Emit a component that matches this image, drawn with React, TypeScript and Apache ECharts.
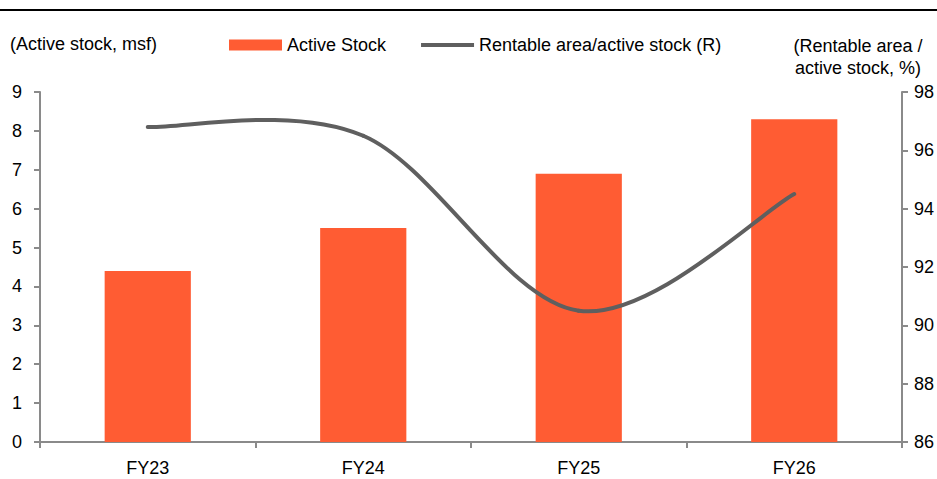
import React, { useEffect, useRef } from "react";
import * as echarts from "echarts";

const categories = ["FY23", "FY24", "FY25", "FY26"];
const activeStock = [4.4, 5.5, 6.9, 8.3];
const rentableShare = [96.8, 96.5, 90.5, 94.5];

const FONT = "'Liberation Sans', Arial, sans-serif";
const AXIS_COLOR = "#8a8a8a";
const BAR_COLOR = "#ff5c33";
const LINE_COLOR = "#5f5f5f";
const LINE_NAME = "Rentable area/active stock (R)";

// Cardinal-spline segment (tension 1/6) between point i and i+1,
// positioned through the chart's own axes via api.coord.
function renderSmoothSegment(params: any, api: any) {
  const i = params.dataIndex;
  const n = rentableShare.length;
  if (i >= n - 1) return null;
  const pt = (j: number) => {
    const k = Math.max(0, Math.min(n - 1, j));
    return api.coord([k, rentableShare[k]]);
  };
  const p0 = pt(i - 1);
  const p1 = pt(i);
  const p2 = pt(i + 1);
  const p3 = pt(i + 2);
  const t = 1 / 6;
  return {
    type: "bezierCurve",
    shape: {
      x1: p1[0],
      y1: p1[1],
      cpx1: p1[0] + (p2[0] - p0[0]) * t,
      cpy1: p1[1] + (p2[1] - p0[1]) * t,
      cpx2: p2[0] - (p3[0] - p1[0]) * t,
      cpy2: p2[1] - (p3[1] - p1[1]) * t,
      x2: p2[0],
      y2: p2[1],
    },
    style: { stroke: LINE_COLOR, lineWidth: 4, fill: "none", lineCap: "round" },
    silent: true,
  };
}

export default function App() {
  const ref = useRef<HTMLDivElement>(null);

  useEffect(() => {
    if (!ref.current) return;
    const chart = echarts.init(ref.current, null, { renderer: "svg" });
    const axisLine = { show: true, lineStyle: { color: AXIS_COLOR, width: 2 } };
    const axisTick = { show: true, inside: false, length: 6, lineStyle: { color: AXIS_COLOR, width: 2 } };
    const labelStyle = { color: "#000", fontFamily: FONT, fontSize: 18 };

    chart.setOption({
      animation: false,
      backgroundColor: "#fff",
      textStyle: { fontFamily: FONT },
      grid: { left: 40, right: 35, top: 92, bottom: 37, containLabel: false, outerBoundsMode: "none" },
      legend: {
        left: 229,
        top: 36,
        padding: 0,
        itemWidth: 53,
        itemHeight: 11,
        itemGap: 35,
        textStyle: { ...labelStyle },
        data: [
          { name: "Active Stock", icon: "rect" },
          { name: LINE_NAME, icon: "path://M0,0H50V4H0Z" },
        ],
      },
      xAxis: {
        type: "category",
        data: categories,
        boundaryGap: true,
        axisLine,
        axisTick: { ...axisTick, alignWithLabel: false },
        axisLabel: { ...labelStyle, margin: 17 },
        splitLine: { show: false },
      },
      yAxis: [
        {
          type: "value",
          min: 0,
          max: 9,
          interval: 1,
          position: "left",
          axisLine,
          axisTick,
          axisLabel: { ...labelStyle, margin: 18 },
          splitLine: { show: false },
        },
        {
          type: "value",
          min: 86,
          max: 98,
          interval: 2,
          position: "right",
          axisLine,
          axisTick,
          axisLabel: { ...labelStyle, margin: 12 },
          splitLine: { show: false },
        },
      ],
      series: [
        {
          name: "Active Stock",
          type: "bar",
          data: activeStock,
          barWidth: "40%",
          itemStyle: { color: BAR_COLOR },
          yAxisIndex: 0,
        },
        {
          name: LINE_NAME,
          type: "custom",
          yAxisIndex: 1,
          data: rentableShare.map((v, i) => [i, v]),
          encode: { x: 0, y: 1 },
          renderItem: renderSmoothSegment,
          itemStyle: { color: LINE_COLOR },
          z: 3,
        },
      ],
      graphic: [
        {
          type: "line",
          shape: { x1: 0, y1: 10, x2: 937, y2: 10 },
          style: { stroke: "#000", lineWidth: 2 },
        },
        {
          type: "text",
          left: 10,
          top: 35,
          style: { text: "(Active stock, msf)", font: `18px ${FONT}`, fill: "#000" },
        },
        {
          type: "text",
          x: 858,
          y: 35,
          style: {
            text: "(Rentable area /\nactive stock, %)",
            font: `18px ${FONT}`,
            fill: "#000",
            align: "center",
            lineHeight: 22,
          },
        },
      ],
    });
    return () => chart.dispose();
  }, []);

  return (
    <div
      ref={ref}
      style={{ position: "fixed", left: 0, top: 0, width: 937, height: 479, background: "#fff" }}
    />
  );
}
